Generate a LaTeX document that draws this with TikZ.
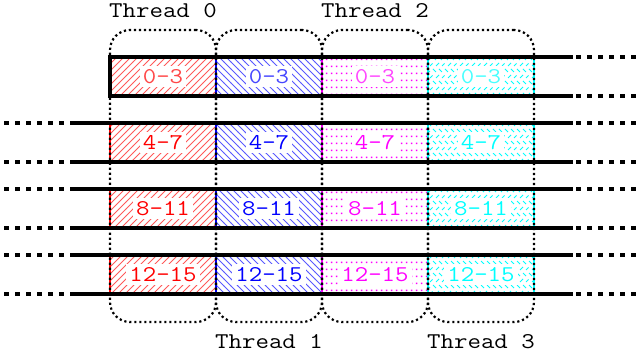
\documentclass[tikz,border=0pt]{standalone}
\usepackage{fontspec}
\setmonofont{Latin Modern Mono}[FakeStretch=1.16]
\usetikzlibrary{patterns}

\definecolor{cR}{RGB}{255,0,0}
\definecolor{cB}{RGB}{0,0,255}
\definecolor{cM}{RGB}{255,0,255}
\definecolor{cC}{RGB}{0,255,255}

\pgfdeclarepatternformonly{hne}{\pgfqpoint{-1pt}{-1pt}}{\pgfqpoint{8pt}{8pt}}{\pgfqpoint{7pt}{7pt}}{%
  \pgfsetlinewidth{0.8pt}%
  \pgfpathmoveto{\pgfqpoint{0pt}{0pt}}\pgfpathlineto{\pgfqpoint{7.1pt}{7.1pt}}\pgfusepath{stroke}}
\pgfdeclarepatternformonly{hnw}{\pgfqpoint{-1pt}{-1pt}}{\pgfqpoint{8pt}{8pt}}{\pgfqpoint{7pt}{7pt}}{%
  \pgfsetlinewidth{0.8pt}%
  \pgfpathmoveto{\pgfqpoint{0pt}{7pt}}\pgfpathlineto{\pgfqpoint{7.1pt}{-0.1pt}}\pgfusepath{stroke}}
\pgfdeclarepatternformonly{hdots}{\pgfqpoint{0pt}{0pt}}{\pgfqpoint{5pt}{7pt}}{\pgfqpoint{5pt}{7pt}}{%
  \pgfpathrectangle{\pgfqpoint{1pt}{2pt}}{\pgfqpoint{1.7pt}{1.7pt}}\pgfusepath{fill}}
\pgfdeclarepatternformonly{hherr}{\pgfqpoint{-1pt}{-1pt}}{\pgfqpoint{13pt}{13pt}}{\pgfqpoint{12pt}{12pt}}{%
  \pgfsetlinewidth{0.9pt}%
  \pgfpathmoveto{\pgfqpoint{1pt}{11pt}}\pgfpathlineto{\pgfqpoint{4pt}{8pt}}%
  \pgfpathmoveto{\pgfqpoint{7pt}{11pt}}\pgfpathlineto{\pgfqpoint{10pt}{8pt}}%
  \pgfpathmoveto{\pgfqpoint{4pt}{2pt}}\pgfpathlineto{\pgfqpoint{7pt}{5pt}}%
  \pgfpathmoveto{\pgfqpoint{10pt}{2pt}}\pgfpathlineto{\pgfqpoint{12.5pt}{4.5pt}}%
  \pgfusepath{stroke}}

\tikzset{
  mono/.style={font=\fontsize{22.5}{22.5}\selectfont\ttfamily},
  cell/.style={minimum width=106pt, minimum height=39pt, inner sep=0pt, outer sep=0pt, line width=1.3pt},
  k0/.style={cell, draw=cR, pattern=hne, pattern color=cR!65},
  k1/.style={cell, draw=cB, pattern=hnw, pattern color=cB!65},
  k2/.style={cell, draw=cM, pattern=hdots, pattern color=cM},
  k3/.style={cell, draw=cC, pattern=hherr, pattern color=cC},
  t0/.style={text=cR}, t1/.style={text=cB}, t2/.style={text=cM}, t3/.style={text=cC},
  txt/.style={mono, fill=white, inner xsep=3pt, inner ysep=3pt},
  row0/.style={text opacity=0.72},
  row1/.style={}, row2/.style={}, row3/.style={},
  bar/.style={line width=3.5pt},
  dbar/.style={line width=3.5pt, dash pattern=on 5pt off 6pt},
  frame/.style={draw, line width=2.2pt, dash pattern=on 2.2pt off 2.8pt, rounded corners=20pt,
    minimum width=106pt, minimum height=292pt, inner sep=0pt, outer sep=0pt},
  lbl/.style={mono, anchor=base, inner sep=0pt},
}

\begin{document}
\begin{tikzpicture}[x=1pt, y=-1pt]
\useasboundingbox (0,0) rectangle (638,356);

\foreach \r/\y/\t in {0/76.5/0-3, 1/142.5/4-7, 2/208.5/8-11, 3/274.5/12-15} {
  \foreach \c/\x in {0/163, 1/269, 2/375, 3/481} {
    \node[k\c] (c\r\c) at (\x,\y) {};
    \node[txt, t\c, row\r] (l\r\c) at (c\r\c) {\t};
  }
}

% first row: closed on the left
\draw[bar, line join=miter] (573,57) -- (110,57) -- (110,96) -- (573,96);
\draw[dbar] (576,57) -- (638,57);
\draw[dbar] (576,96) -- (638,96);

\foreach \y in {123,162,189,228,255,294} {
  \draw[bar] (70,\y) -- (573,\y);
  \draw[dbar] (4,\y) -- (70,\y);
  \draw[dbar] (576,\y) -- (638,\y);
}

\foreach \c/\x in {0/163, 1/269, 2/375, 3/481} {
  \node[frame] (f\c) at (\x,176) {};
}

\node[lbl] (th0) at (163,17.3) {Thread 0};
\node[lbl] (th2) at (375,17.3) {Thread 2};
\node[lbl] (th1) at (269,348) {Thread 1};
\node[lbl] (th3) at (481,348) {Thread 3};
\end{tikzpicture}
\end{document}
